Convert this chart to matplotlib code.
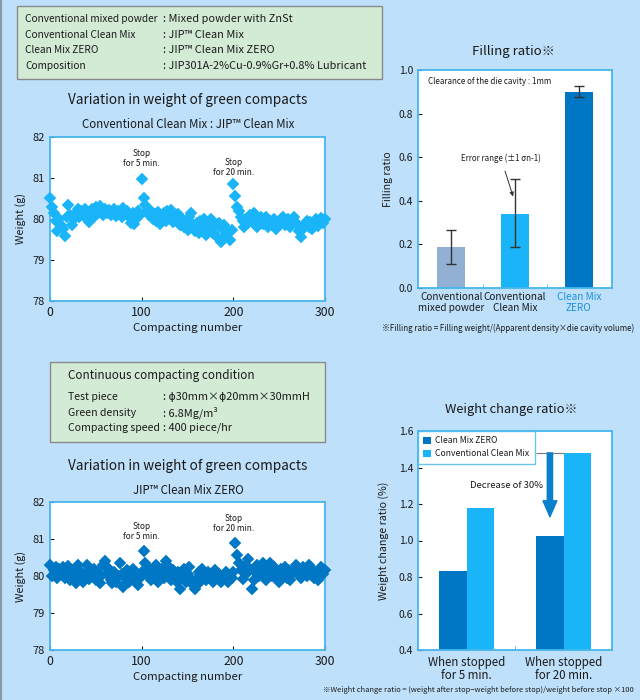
import numpy as np
import matplotlib
matplotlib.use('Agg')
import matplotlib.pyplot as plt
from matplotlib.patches import Rectangle, FancyArrowPatch
from matplotlib.lines import Line2D

plt.rcParams['font.family'] = ['Noto Sans CJK JP', 'DejaVu Sans']

# ---------------- data ----------------
compact_no = list(range(0, 301, 2))

weight_clean_mix = [
    80.50, 80.30, 80.15, 79.95, 79.70, 80.00, 79.85, 79.75, 79.58, 80.05,
    80.35, 80.10, 79.85, 80.00, 80.15, 80.25, 80.05, 80.20, 80.10, 80.25,
    80.00, 79.92, 80.15, 80.25, 80.05, 80.30, 80.15, 80.32, 80.20, 80.10,
    80.25, 80.15, 80.22, 80.10, 80.18, 80.25, 80.08, 80.20, 80.15, 80.05,
    80.28, 80.15, 80.20, 80.05, 79.90, 80.15, 79.88, 80.00, 80.20, 80.10,
    80.97, 80.50, 80.35, 80.20, 80.10, 80.20, 80.00, 80.12, 79.95, 80.18,
    79.88, 80.05, 80.15, 79.95, 80.20, 80.05, 80.22, 79.92, 80.10, 80.00,
    80.12, 79.85, 80.00, 79.80, 79.95, 79.72, 80.05, 80.15, 79.85, 79.70,
    79.90, 79.65, 79.95, 79.75, 80.00, 79.60, 79.88, 79.70, 80.00, 79.65,
    79.80, 79.55, 79.90, 79.45, 79.75, 79.85, 79.60, 79.70, 79.50, 79.72,
    80.85, 80.55, 80.30, 80.20, 80.05, 79.95, 79.80, 80.00, 79.90, 80.10,
    79.95, 80.15, 80.00, 79.80, 79.95, 80.05, 79.88, 79.98, 80.05, 79.80,
    79.95, 79.85, 80.00, 79.75, 79.90, 79.85, 80.00, 80.05, 79.85, 79.95,
    80.00, 79.80, 79.95, 80.05, 79.90, 79.85, 79.70, 79.55, 79.75, 79.85,
    79.95, 79.80, 79.92, 79.75, 79.90, 80.00, 79.82, 79.95, 80.02, 79.90,
    80.00,
]

weight_zero = [
    80.30, 80.00, 80.15, 80.25, 79.95, 80.20, 80.05, 80.25, 79.95, 80.10,
    80.28, 79.90, 80.05, 80.15, 79.82, 80.30, 80.00, 80.12, 79.85, 80.05,
    80.30, 79.92, 80.15, 80.05, 80.20, 79.88, 80.10, 79.80, 80.00, 80.30,
    80.40, 80.05, 80.20, 79.90, 79.80, 80.10, 79.85, 80.00, 80.35, 80.05,
    79.70, 79.95, 80.15, 79.85, 80.05, 80.20, 80.00, 79.90, 79.75, 79.95,
    80.10, 80.67, 80.35, 80.05, 80.20, 79.90, 80.15, 80.00, 80.30, 79.85,
    80.10, 80.20, 79.95, 80.40, 80.05, 80.25, 79.90, 80.15, 80.00, 79.85,
    80.10, 79.65, 79.95, 80.20, 79.85, 80.05, 80.25, 79.90, 79.75, 79.65,
    79.95, 80.10, 79.85, 80.20, 80.00, 79.88, 80.10, 79.95, 80.05, 79.85,
    80.15, 79.95, 80.05, 79.85, 80.00, 79.95, 80.10, 79.85, 80.00, 79.95,
    80.10, 80.88, 80.58, 80.35, 80.15, 79.92, 80.25, 80.05, 80.45, 80.20,
    79.65, 79.90, 80.10, 80.30, 80.00, 80.20, 80.35, 80.05, 79.90, 80.15,
    80.35, 80.00, 80.25, 79.95, 80.10, 79.85, 80.20, 80.05, 80.25, 79.95,
    80.15, 79.88, 80.05, 80.20, 80.30, 80.05, 80.15, 79.95, 80.25, 80.10,
    80.00, 80.30, 80.10, 80.20, 79.95, 80.05, 79.90, 80.15, 80.25, 80.05,
    80.15,
]

fill_categories = ['Conventional\nmixed powder', 'Conventional\nClean Mix', 'Clean Mix\nZERO']
fill_ratio = [0.19, 0.34, 0.90]
fill_err_low = [0.11, 0.19, 0.878]
fill_err_high = [0.265, 0.50, 0.925]

wc_categories = ['When stopped\nfor 5 min.', 'When stopped\nfor 20 min.']
wc_zero = [0.835, 1.025]
wc_conv = [1.18, 1.48]

# ---------------- style ----------------
W, H = 640, 700
BG = '#BEE0FA'
BOX = '#D3EBD5'
SPINE = '#45B6EE'
C_LIGHT = '#1AB4F8'
C_DARK = '#0077C4'
C_GRAY = '#92B0D4'
TXT = '#1a1a1a'

fig = plt.figure(figsize=(6.4, 7.0), dpi=100, facecolor=BG)


def rect(l, t, r, b):
    return [l / W, 1 - b / H, (r - l) / W, (b - t) / H]


def ftext(x, y, s, **kw):
    kw.setdefault('color', TXT)
    kw.setdefault('va', 'center')
    fig.text(x / W, 1 - y / H, s, **kw)


def fbox(l, t, r, b):
    fig.patches.append(Rectangle((l / W, 1 - b / H), (r - l) / W, (b - t) / H,
                                 transform=fig.transFigure, facecolor=BOX,
                                 edgecolor='#8a8a8a', lw=1.0))


# left border line
fig.lines.append(Line2D([1.0 / W, 1.0 / W], [0, 1], transform=fig.transFigure,
                        color='#8a9aa8', lw=1.5))

# ---------------- top info box ----------------
fbox(17, 6, 382, 79)
rows1 = [('Conventional mixed powder', ': Mixed powder with ZnSt'),
         ('Conventional Clean Mix', ': JIP™ Clean Mix'),
         ('Clean Mix ZERO', ': JIP™ Clean Mix ZERO'),
         ('Composition', ': JIP301A-2%Cu-0.9%Gr+0.8% Lubricant')]
for i, (a, b) in enumerate(rows1):
    y = 19 + i * 15.6
    ftext(25, y, a, fontsize=7.3)
    ftext(163, y, b, fontsize=7.9)

# ---------------- middle info box ----------------
fbox(50, 362, 325, 442)
ftext(68, 375, 'Continuous compacting condition', fontsize=8.4)
rows2 = [('Test piece', ': ϕ30mm×ϕ20mm×30mmH'),
         ('Green density', ': 6.8Mg/m³'),
         ('Compacting speed', ': 400 piece/hr')]
for i, (a, b) in enumerate(rows2):
    y = 397 + i * 15.5
    ftext(68, y, a, fontsize=7.6)
    ftext(163, y, b, fontsize=7.9)


# ---------------- scatter panels ----------------
def style_axes(ax, xsize, ysize):
    for s in ax.spines.values():
        s.set_color(SPINE)
        s.set_linewidth(1.3)
    ax.tick_params(colors=TXT, direction='in', length=3, width=0.8)
    ax.tick_params(axis='x', labelsize=xsize)
    ax.tick_params(axis='y', labelsize=ysize)


def scatter_panel(top, bottom, ys, color, title, title_y, sub, sub_y, s5, s20):
    ftext(188, title_y, title, fontsize=9.8, ha='center')
    ftext(188, sub_y, sub, fontsize=8.3, ha='center')
    ax = fig.add_axes(rect(50, top, 325, bottom))
    ax.set_facecolor('white')
    ax.plot(compact_no, ys, ls='none', marker='D', ms=5.8, color=color,
            mec=color, mew=0.3, clip_on=False, zorder=3)
    ax.set_xlim(0, 300)
    ax.set_ylim(78, 82)
    ax.set_xticks([0, 100, 200, 300])
    ax.set_yticks([78, 79, 80, 81, 82])
    style_axes(ax, 8.8, 8.0)
    ax.set_xlabel('Compacting number', fontsize=8.2, color=TXT, labelpad=3)
    ax.set_ylabel('Weight (g)', fontsize=7.8, color=TXT, labelpad=5)
    ax.text(100, s5, 'Stop\nfor 5 min.', ha='center', va='center', fontsize=6.0,
            color=TXT, linespacing=1.15)
    ax.text(200, s20, 'Stop\nfor 20 min.', ha='center', va='center', fontsize=6.0,
            color=TXT, linespacing=1.15)
    return ax


scatter_panel(137, 301, weight_clean_mix, C_LIGHT,
              'Variation in weight of green compacts', 100,
              'Conventional Clean Mix : JIP™ Clean Mix', 125, 81.47, 81.25)
scatter_panel(502, 650, weight_zero, C_DARK,
              'Variation in weight of green compacts', 466,
              'JIP™ Clean Mix ZERO', 490, 81.19, 81.41)

# ---------------- filling ratio ----------------
ftext(513, 51, 'Filling ratio※', fontsize=9.5, ha='center')
ax = fig.add_axes(rect(418, 70, 612, 288))
ax.set_facecolor('white')
xpos = np.arange(len(fill_ratio))
lower = np.array(fill_ratio) - np.array(fill_err_low)
upper = np.array(fill_err_high) - np.array(fill_ratio)
ax.bar(xpos, fill_ratio, width=0.44, color=[C_GRAY, C_LIGHT, C_DARK], zorder=2)
ax.errorbar(xpos, fill_ratio, yerr=[lower, upper], fmt='none', ecolor='#333333',
            elinewidth=1.0, capsize=3.5, capthick=1.0, zorder=3)
ax.set_xlim(-0.52, 2.52)
ax.set_ylim(0, 1.0)
ax.set_yticks([0.0, 0.2, 0.4, 0.6, 0.8, 1.0])
ax.set_yticklabels(['0.0', '0.2', '0.4', '0.6', '0.8', '1.0'])
ax.set_xticks(xpos)
ax.set_xticklabels(fill_categories, linespacing=1.05)
ax.set_xticks([0.5, 1.5], minor=True)
style_axes(ax, 7.2, 7.5)
ax.tick_params(axis='x', which='major', length=0, pad=3)
ax.tick_params(axis='x', which='minor', length=3, color=SPINE, direction='in')
ax.get_xticklabels()[2].set_color('#1A8FE0')
ax.set_ylabel('Filling ratio', fontsize=7.6, color=TXT, labelpad=4)
ax.text(0.05, 0.945, 'Clearance of the die cavity : 1mm', transform=ax.transAxes,
        fontsize=5.8, color=TXT, va='center')
ax.annotate('Error range (±1 σn-1)', xy=(0.97, 0.42), xytext=(0.78, 0.595),
            fontsize=5.7, color=TXT, ha='center', va='center',
            arrowprops=dict(arrowstyle='-|>', color='#333333', lw=0.7,
                            mutation_scale=6, shrinkA=4, shrinkB=0))
ftext(634, 328, '※Filling ratio = Filling weight/(Apparent density×die cavity volume)',
      fontsize=5.7, ha='right')

# ---------------- weight change ratio ----------------
ftext(511, 410, 'Weight change ratio※', fontsize=9.3, ha='center')
ax = fig.add_axes(rect(418, 431, 612, 650))
ax.set_facecolor('white')
gx = np.arange(len(wc_categories))
w = 0.28
ax.bar(gx - w / 2, wc_zero, width=w, color=C_DARK, label='Clean Mix ZERO', zorder=2)
ax.bar(gx + w / 2, wc_conv, width=w, color=C_LIGHT, label='Conventional Clean Mix', zorder=2)
ax.set_xlim(-0.5, 1.5)
ax.set_ylim(0.4, 1.6)
ax.set_yticks([0.4, 0.6, 0.8, 1.0, 1.2, 1.4, 1.6])
ax.set_yticklabels(['0.4', '0.6', '0.8', '1.0', '1.2', '1.4', '1.6'])
ax.set_xticks(gx)
ax.set_xticklabels(wc_categories, linespacing=1.05)
ax.set_xticks([0.5], minor=True)
style_axes(ax, 8.3, 7.5)
ax.tick_params(axis='x', which='major', length=0, pad=4)
ax.tick_params(axis='x', which='minor', length=3, color=SPINE, direction='in')
ax.set_ylabel('Weight change ratio (%)', fontsize=7.7, color=TXT, labelpad=7)
leg = ax.legend(loc='upper left', borderaxespad=0, fontsize=6.2, frameon=True,
                fancybox=False, edgecolor=SPINE, handlelength=0.9, handleheight=0.9,
                handletextpad=0.5, borderpad=0.6, labelspacing=0.5)
leg.get_frame().set_linewidth(1.0)
for t in leg.get_texts():
    t.set_color(TXT)
ax.hlines(wc_conv[1], 1 - w, 1, color='#777777', lw=0.8, zorder=3)
arr = FancyArrowPatch((1 - w / 2, wc_conv[1]), (1 - w / 2, 1.13),
                      arrowstyle='simple,head_width=1.0,head_length=1.15,tail_width=0.38',
                      mutation_scale=10, color='#0A80CC', zorder=4,
                      shrinkA=0, shrinkB=0)
ax.add_patch(arr)
ax.text(0.785, 1.30, 'Decrease of 30%', ha='right', va='center', fontsize=6.8, color=TXT)
ftext(634, 690, '※Weight change ratio = (weight after stop−weight before stop)/weight before stop ×100',
      fontsize=5.4, ha='right')

fig.savefig('out.png', dpi=100, facecolor=BG)
